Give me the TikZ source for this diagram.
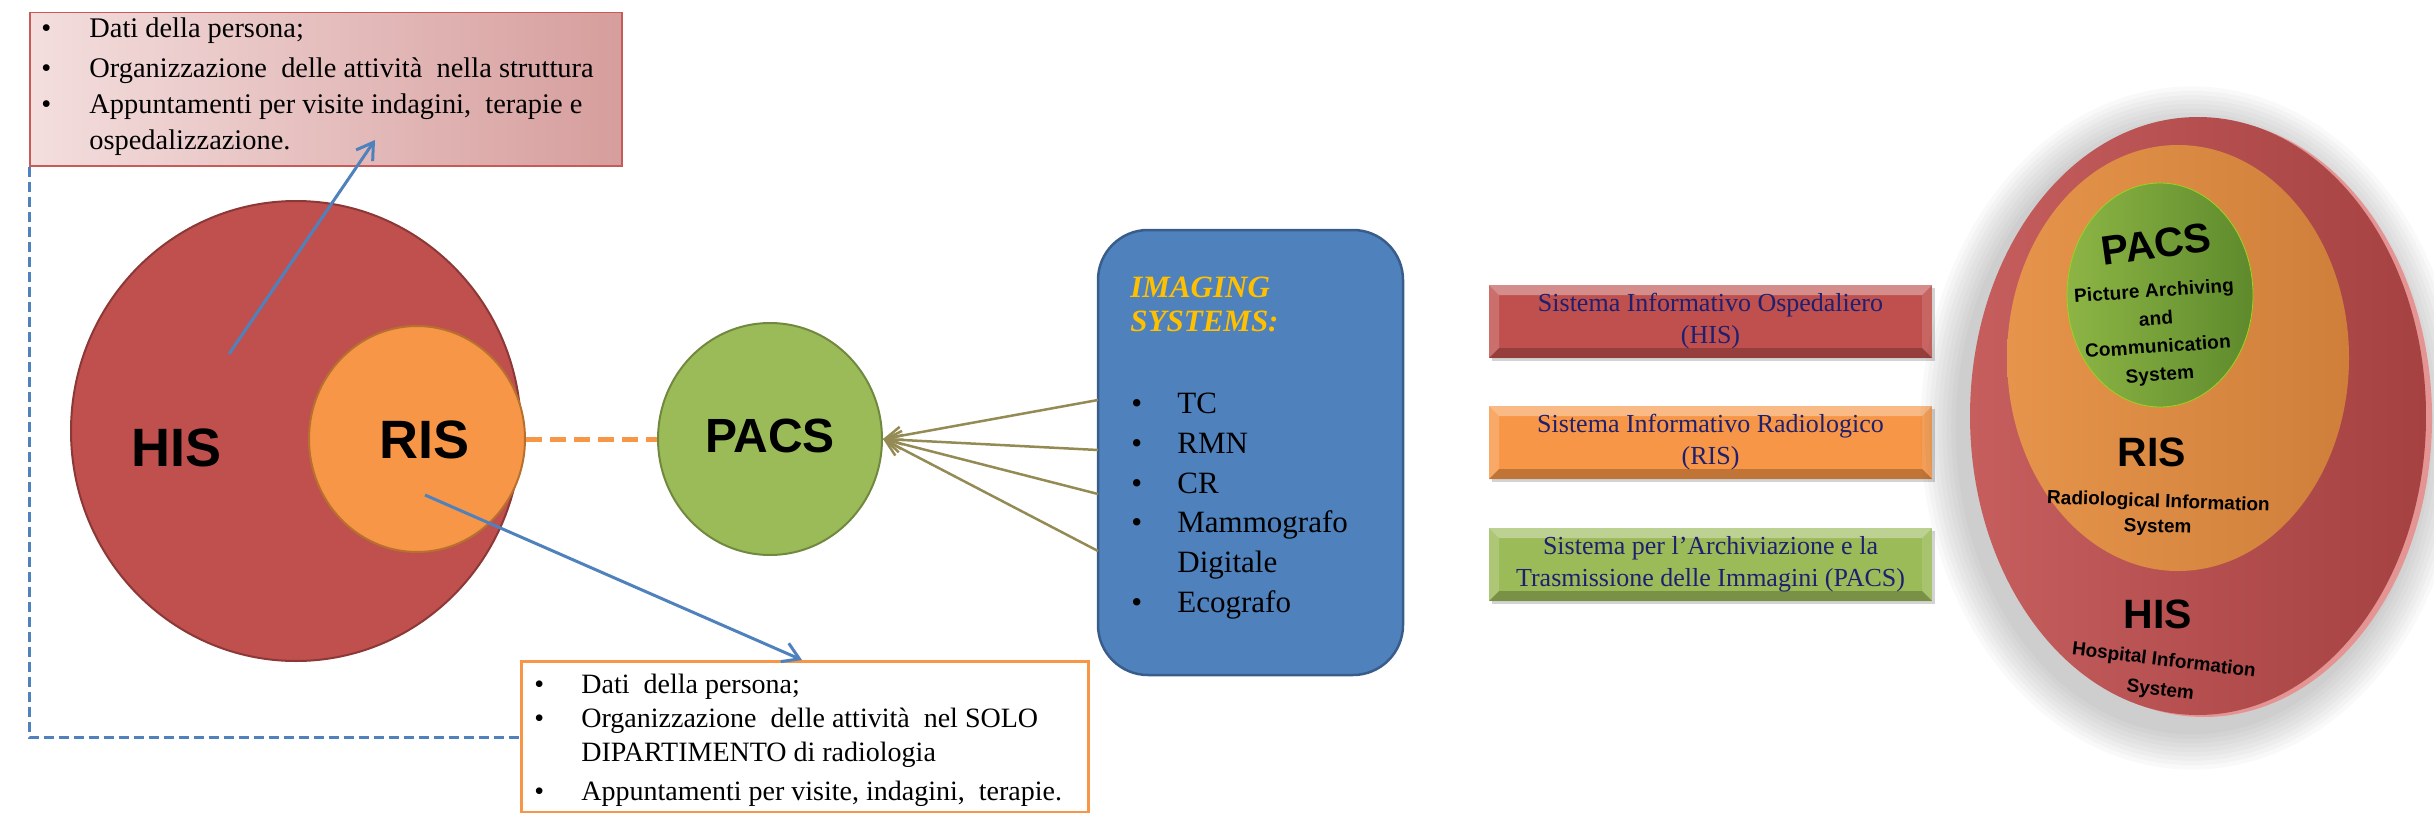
\documentclass[tikz,border=0pt]{standalone}
\usepackage{fontspec}
\setmainfont{Liberation Serif}
\newfontfamily\sansfam{Liberation Sans}
\usetikzlibrary{shapes.geometric,arrows.meta,shadows}
\definecolor{hisred}{HTML}{C0504D}
\definecolor{hisborder}{HTML}{8C3836}
\definecolor{risorange}{HTML}{F79646}
\definecolor{risborder}{HTML}{B8702F}
\definecolor{pacsgreen}{HTML}{9BBB59}
\definecolor{pacsborder}{HTML}{71893F}
\definecolor{linkblue}{HTML}{4F81BD}
\definecolor{imgborder}{HTML}{385D8A}
\definecolor{olivelink}{HTML}{948A54}
\definecolor{navytext}{HTML}{1F1F70}
\definecolor{goldtext}{HTML}{FFC000}
\definecolor{topboxL}{HTML}{F4DEDE}
\definecolor{topboxR}{HTML}{D69E9D}
\definecolor{topboxborder}{HTML}{C85A58}
\definecolor{discredL}{HTML}{C65E5E}
\definecolor{discred}{HTML}{A54141}
\definecolor{discrim}{HTML}{E59494}
\definecolor{discorL}{HTML}{E6944B}
\definecolor{discor}{HTML}{CF7F3A}
\definecolor{discgrL}{HTML}{8DB545}
\definecolor{discgr}{HTML}{5E8A2C}
\newcommand{\mybul}[1][24pt]{\makebox[#1][l]{\textbullet}}
\begin{document}
\begin{tikzpicture}[x=0.5pt,y=-0.5pt,
  listtext/.style={font=\fontsize{14.2pt}{18pt}\selectfont, align=left, inner sep=0pt, anchor=north west},
  bluearrow/.style={draw=linkblue, line width=1.5pt, -{Straight Barb[length=8pt,width=10pt]}},
  olivearrow/.style={draw=olivelink, line width=1.25pt, -{Straight Barb[length=8pt,width=9pt]}},
  bluedash/.style={draw=linkblue, line width=1.5pt, dash pattern=on 5pt off 2.5pt},
  orangedash/.style={draw=risorange, line width=2.5pt, dash pattern=on 8pt off 4pt},
  bigsans/.style={font=\sansfam\bfseries\fontsize{27pt}{30pt}\selectfont, inner sep=0pt},
  sysbox/.style={minimum width=221.5pt, minimum height=36.5pt, inner sep=0pt, align=center,
    text=navytext, font=\fontsize{13pt}{16pt}\selectfont,
    drop shadow={shadow xshift=1.5pt, shadow yshift=-1.5pt, opacity=.35},
    path picture={
      \fill[white,opacity=.35] (path picture bounding box.north west) -- (path picture bounding box.north east)
        -- ([xshift=-5pt,yshift=-5pt]path picture bounding box.north east) -- ([xshift=5pt,yshift=-5pt]path picture bounding box.north west) -- cycle;
      \fill[white,opacity=.18] (path picture bounding box.north west) -- ([xshift=5pt,yshift=-5pt]path picture bounding box.north west)
        -- ([xshift=5pt,yshift=5pt]path picture bounding box.south west) -- (path picture bounding box.south west) -- cycle;
      \fill[white,opacity=.12] (path picture bounding box.north east) -- ([xshift=-5pt,yshift=-5pt]path picture bounding box.north east)
        -- ([xshift=-5pt,yshift=5pt]path picture bounding box.south east) -- (path picture bounding box.south east) -- cycle;
      \fill[black,opacity=.22] (path picture bounding box.south west) -- (path picture bounding box.south east)
        -- ([xshift=-5pt,yshift=5pt]path picture bounding box.south east) -- ([xshift=5pt,yshift=5pt]path picture bounding box.south west) -- cycle;
    }},
  disctitle/.style={font=\sansfam\bfseries\fontsize{20.5pt}{22pt}\selectfont, inner sep=0pt},
  discsmall/.style={font=\sansfam\bfseries\addfontfeature{LetterSpace=1}\fontsize{9.5pt}{14pt}\selectfont, inner sep=0pt, align=center}
]
\useasboundingbox (0,0) rectangle (2434,813);

% ---------- top box (HIS description) ----------
\node[draw=topboxborder, line width=0.75pt, left color=topboxL, right color=topboxR,
      minimum width=296pt, minimum height=76.5pt, inner sep=0pt, anchor=north west] (topbox) at (29,12) {};
\node[listtext] (toptext) at (41,17) {\mybul Dati della persona;\\[2pt]
\mybul Organizzazione \ delle attività \ nella struttura\\
\mybul Appuntamenti per visite indagini, \ terapie e\\
\hspace*{24pt}ospedalizzazione.};

% ---------- bottom box (RIS description) ----------
\node[draw=risorange, line width=1.5pt, fill=white, minimum width=283.5pt, minimum height=75.5pt,
      inner sep=0pt, anchor=north west] (botbox) at (520,660) {};
\node[listtext, font=\fontsize{14pt}{17pt}\selectfont] (bottext) at (534,673.5) {\mybul[23.5pt]Dati \ della persona;\\
\mybul[23.5pt]Organizzazione \ delle attività \ nel SOLO\\
\hspace*{23.5pt}DIPARTIMENTO di radiologia\\[2.5pt]
\mybul[23.5pt]Appuntamenti per visite, indagini, \ terapie.};

% dashed link between the two description boxes
\draw[bluedash] (topbox.south west) |- (botbox.west);

% ---------- HIS / RIS / PACS ----------
\node[ellipse, draw=hisborder, line width=1pt, fill=hisred, minimum width=225pt, minimum height=230pt, inner sep=0pt] (his) at (296,431) {};
\node[ellipse, draw=risborder, line width=1pt, fill=risorange, minimum width=108pt, minimum height=113pt, inner sep=0pt] (ris) at (417,439) {};
\node[bigsans] (histxt) at (177,448) {HIS};
\node[bigsans] (ristxt) at (425,440) {RIS};
\node[ellipse, draw=pacsborder, line width=1pt, fill=pacsgreen, minimum width=112pt, minimum height=116pt, inner sep=0pt] (pacs) at (770,439) {};
\node[bigsans, font=\sansfam\bfseries\fontsize{24pt}{26pt}\selectfont] (pacstxt) at (770,436) {PACS};

\draw[orangedash] (ris.east) -- (pacs.west);

\coordinate (hisfrom) at (229,354);
\coordinate (histo) at (375,140);
\draw[bluearrow] (hisfrom) -- (histo);
\coordinate (risfrom) at (425,495);
\coordinate (risto) at (802,660);
\draw[bluearrow] (risfrom) -- (risto);

% ---------- imaging systems ----------
\node[draw=imgborder, line width=1.25pt, fill=linkblue, rounded corners=25pt,
      minimum width=152.5pt, minimum height=222.5pt, inner sep=0pt] (img) at (1250.5,452.5) {};
\node[inner sep=0pt, anchor=north west, align=left, text=goldtext,
      font=\bfseries\itshape\fontsize{15.5pt}{17pt}\selectfont] (imgtitle) at (1130,276.5) {IMAGING\\SYSTEMS:};
\node[inner sep=0pt, anchor=north west, align=left, font=\fontsize{15.5pt}{19.9pt}\selectfont] (imglist) at (1131,392.5)
 {\mybul[23pt]TC\\ \mybul[23pt]RMN\\ \mybul[23pt]CR\\ \mybul[23pt]Mammografo\\ \hspace*{23pt}Digitale\\ \mybul[23pt]Ecografo};

\coordinate (src1) at (1098,400);
\coordinate (src2) at (1098,450);
\coordinate (src3) at (1098,494);
\coordinate (src4) at (1098,551);
\foreach \s in {src1,src2,src3,src4} \draw[olivearrow] (\s) -- (pacs.east);

% ---------- legend boxes ----------
\node[sysbox, fill=hisred] (legHIS) at (1710.5,321.5) {Sistema Informativo Ospedaliero\\(HIS)};
\node[sysbox, fill=risorange] (legRIS) at (1710.5,442.5) {Sistema Informativo Radiologico\\(RIS)};
\node[sysbox, fill=pacsgreen] (legPACS) at (1710.5,564.5) {Sistema per l’Archiviazione e la\\Trasmissione delle Immagini (PACS)};

% ---------- nested disc ----------
\foreach \i in {1,...,9} \fill[black,opacity=0.022] (2192,428) ellipse ({116pt+\i*2.2pt} and {151pt+\i*2.2pt});
\fill[discrim] (2204,418) ellipse (114pt and 149.5pt);
\shade[left color=discredL, right color=discred] (2198,416) ellipse (114pt and 149.5pt);
\shade[left color=discorL, right color=discor] (2178,358) ellipse (85.5pt and 106.5pt);
\shade[left color=discgrL, right color=discgr, draw=yellow!60!green, line width=0.4pt] (2160,295) ellipse (46.5pt and 56pt);

\node[disctitle, rotate=8] (dpacs) at (2156,244) {PACS};
\node[discsmall, rotate=4] (dpacsfull) at (2157,334) {Picture Archiving\\and\\Communication\\System};
\node[disctitle] (dris) at (2152,452) {RIS};
\node[discsmall, rotate=-2, font=\sansfam\bfseries\fontsize{9.5pt}{12.5pt}\selectfont] (drisfull) at (2158,515) {Radiological Information\\System};
\node[disctitle] (dhis) at (2158,614) {HIS};
\node[discsmall, rotate=-7, font=\sansfam\bfseries\fontsize{9.5pt}{15pt}\selectfont] (dhisfull) at (2162,676) {Hospital Information\\System};
\end{tikzpicture}
\end{document}
